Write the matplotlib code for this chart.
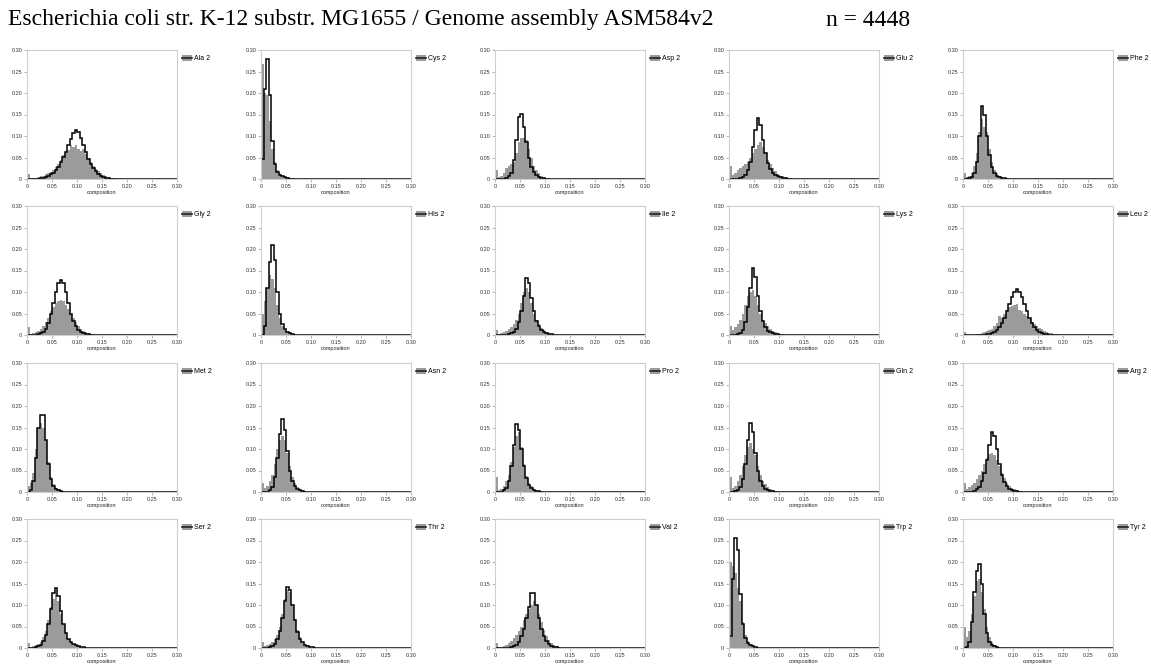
import numpy as np
import matplotlib
matplotlib.use("Agg")
import matplotlib.pyplot as plt
from matplotlib.patches import Patch
from matplotlib.lines import Line2D
from matplotlib.legend_handler import HandlerTuple

TITLE = "Escherichia coli str. K-12 substr. MG1655 / Genome assembly ASM584v2"
N_TEXT = "n = 4448"
BIN_WIDTH = 0.005
X_MAX = 0.30
TICKS = [0, 0.05, 0.10, 0.15, 0.20, 0.25, 0.30]
TICK_LABELS = ["0", "0.05", "0.10", "0.15", "0.20", "0.25", "0.30"]

labels = ["Ala 2", "Cys 2", "Asp 2", "Glu 2", "Phe 2",
          "Gly 2", "His 2", "Ile 2", "Lys 2", "Leu 2",
          "Met 2", "Asn 2", "Pro 2", "Gln 2", "Arg 2",
          "Ser 2", "Thr 2", "Val 2", "Trp 2", "Tyr 2"]

# outline histograms (black), bin i covers [0.005*i, 0.005*(i+1))
ala_black = [0, 0, 0, 0, 0, 0.002, 0.003, 0.005, 0.008, 0.011, 0.015, 0.021, 0.028, 0.040, 0.052, 0.063,
             0.078, 0.093, 0.107, 0.113, 0.110, 0.095, 0.080, 0.063, 0.047, 0.035, 0.026, 0.018, 0.012,
             0.008, 0.005, 0.003, 0.002, 0.001, 0.001]
cys_black = [0.046, 0.210, 0.279, 0.196, 0.088, 0.035, 0.016, 0.010, 0.006, 0.004, 0.002, 0.001, 0.001]
asp_black = [0, 0, 0, 0.001, 0.003, 0.006, 0.015, 0.045, 0.090, 0.145, 0.152, 0.120, 0.085, 0.050, 0.028,
             0.016, 0.009, 0.005, 0.003, 0.002, 0.001]
glu_black = [0, 0, 0, 0.001, 0.003, 0.005, 0.010, 0.020, 0.040, 0.075, 0.115, 0.142, 0.125, 0.090, 0.060,
             0.038, 0.024, 0.014, 0.009, 0.006, 0.004, 0.003, 0.002, 0.001, 0.001]
phe_black = [0, 0, 0.002, 0.005, 0.015, 0.040, 0.100, 0.170, 0.150, 0.100, 0.055, 0.028, 0.014, 0.008,
             0.005, 0.003, 0.002, 0.001]
gly_black = [0, 0, 0, 0.001, 0.002, 0.004, 0.008, 0.015, 0.028, 0.048, 0.075, 0.100, 0.120, 0.128, 0.122,
             0.100, 0.075, 0.050, 0.032, 0.020, 0.012, 0.007, 0.004, 0.003, 0.002, 0.001, 0.001]
his_black = [0, 0.020, 0.110, 0.170, 0.210, 0.175, 0.100, 0.050, 0.025, 0.013, 0.007, 0.004, 0.002, 0.001]
ile_black = [0, 0, 0, 0, 0.001, 0.002, 0.004, 0.008, 0.015, 0.030, 0.055, 0.090, 0.133, 0.120, 0.085,
             0.055, 0.033, 0.020, 0.012, 0.007, 0.004, 0.003, 0.002, 0.001]
lys_black = [0, 0, 0, 0.002, 0.005, 0.012, 0.030, 0.065, 0.110, 0.155, 0.135, 0.090, 0.055, 0.032, 0.018,
             0.010, 0.006, 0.004, 0.003, 0.002, 0.001]
leu_black = [0, 0, 0, 0, 0, 0, 0, 0, 0.001, 0.002, 0.003, 0.005, 0.008, 0.012, 0.018, 0.027, 0.040,
             0.055, 0.072, 0.088, 0.100, 0.107, 0.100, 0.088, 0.072, 0.055, 0.040, 0.028, 0.019, 0.012,
             0.008, 0.005, 0.003, 0.002, 0.001, 0.001]
met_black = [0, 0.005, 0.025, 0.080, 0.150, 0.180, 0.178, 0.120, 0.065, 0.030, 0.014, 0.007, 0.004,
             0.002, 0.001]
asn_black = [0, 0, 0.001, 0.004, 0.012, 0.035, 0.080, 0.135, 0.170, 0.145, 0.095, 0.050, 0.025, 0.013,
             0.007, 0.004, 0.002, 0.001]
pro_black = [0, 0, 0.001, 0.004, 0.010, 0.025, 0.060, 0.110, 0.158, 0.145, 0.100, 0.060, 0.032, 0.016,
             0.009, 0.005, 0.003, 0.002, 0.001]
gln_black = [0, 0, 0.002, 0.005, 0.012, 0.030, 0.065, 0.120, 0.160, 0.140, 0.090, 0.050, 0.026, 0.014,
             0.008, 0.005, 0.003, 0.002, 0.001]
arg_black = [0, 0, 0, 0.001, 0.003, 0.006, 0.012, 0.025, 0.045, 0.075, 0.110, 0.140, 0.130, 0.100, 0.065,
             0.040, 0.024, 0.014, 0.008, 0.005, 0.003, 0.002, 0.001]
ser_black = [0, 0, 0.001, 0.002, 0.004, 0.008, 0.016, 0.030, 0.055, 0.090, 0.128, 0.140, 0.120, 0.085,
             0.055, 0.035, 0.022, 0.014, 0.009, 0.006, 0.004, 0.003, 0.002, 0.001, 0.001]
thr_black = [0, 0, 0, 0.002, 0.005, 0.010, 0.020, 0.040, 0.070, 0.110, 0.143, 0.135, 0.100, 0.065, 0.038,
             0.022, 0.013, 0.008, 0.005, 0.003, 0.002, 0.001]
val_black = [0, 0, 0, 0, 0, 0.001, 0.002, 0.004, 0.008, 0.015, 0.028, 0.045, 0.070, 0.095, 0.127, 0.127,
             0.100, 0.070, 0.045, 0.027, 0.016, 0.009, 0.005, 0.003, 0.002, 0.001]
trp_black = [0.029, 0.160, 0.256, 0.227, 0.125, 0.055, 0.024, 0.012, 0.007, 0.004, 0.002, 0.001]
tyr_black = [0, 0.003, 0.015, 0.060, 0.130, 0.180, 0.195, 0.150, 0.080, 0.035, 0.015, 0.007, 0.004,
             0.002, 0.001]

# filled histograms (gray)
ala_gray = [0.012, 0.001, 0.002, 0.002, 0.004, 0.006, 0.008, 0.011, 0.014, 0.016, 0.022, 0.028, 0.035,
            0.045, 0.055, 0.062, 0.067, 0.078, 0.074, 0.078, 0.070, 0.065, 0.070, 0.058, 0.048, 0.040,
            0.030, 0.024, 0.018, 0.013, 0.010, 0.007, 0.005, 0.003, 0.002, 0.002, 0.001]
cys_gray = [0.268, 0.200, 0.195, 0.135, 0.070, 0.040, 0.020, 0.012, 0.008, 0.005, 0.004, 0.003, 0.002,
            0.001, 0.001, 0.001, 0.001, 0.001, 0.001]
asp_gray = [0.020, 0.004, 0.008, 0.015, 0.025, 0.030, 0.035, 0.040, 0.060, 0.085, 0.095, 0.095, 0.090,
            0.070, 0.050, 0.030, 0.020, 0.013, 0.008, 0.005, 0.003, 0.002, 0.001]
glu_gray = [0.030, 0.010, 0.015, 0.020, 0.025, 0.030, 0.035, 0.040, 0.050, 0.060, 0.070, 0.080, 0.085,
            0.075, 0.060, 0.045, 0.035, 0.025, 0.018, 0.012, 0.008, 0.006, 0.004, 0.003, 0.002, 0.001]
phe_gray = [0.015, 0.004, 0.008, 0.015, 0.030, 0.060, 0.110, 0.140, 0.120, 0.110, 0.070, 0.040, 0.022,
            0.013, 0.008, 0.005, 0.003, 0.002, 0.001]
gly_gray = [0.018, 0.003, 0.005, 0.008, 0.010, 0.015, 0.020, 0.030, 0.040, 0.055, 0.065, 0.075, 0.078,
            0.082, 0.080, 0.070, 0.060, 0.050, 0.040, 0.030, 0.022, 0.015, 0.010, 0.007, 0.005, 0.003,
            0.002, 0.001, 0.001]
his_gray = [0.050, 0.080, 0.110, 0.140, 0.130, 0.110, 0.070, 0.040, 0.022, 0.012, 0.007, 0.004, 0.002,
            0.001]
ile_gray = [0.012, 0.003, 0.005, 0.007, 0.010, 0.013, 0.018, 0.025, 0.035, 0.050, 0.075, 0.100, 0.110,
            0.100, 0.075, 0.050, 0.035, 0.025, 0.017, 0.011, 0.007, 0.005, 0.003, 0.002, 0.001]
lys_gray = [0.020, 0.012, 0.018, 0.025, 0.035, 0.050, 0.070, 0.090, 0.100, 0.105, 0.090, 0.070, 0.050,
            0.035, 0.028, 0.020, 0.014, 0.010, 0.007, 0.005, 0.003, 0.002, 0.001]
leu_gray = [0.008, 0.001, 0.001, 0.001, 0.001, 0.002, 0.003, 0.004, 0.006, 0.010, 0.012, 0.015, 0.020,
            0.028, 0.045, 0.040, 0.050, 0.058, 0.065, 0.067, 0.070, 0.072, 0.058, 0.055, 0.050, 0.045,
            0.038, 0.030, 0.025, 0.020, 0.016, 0.014, 0.010, 0.007, 0.005, 0.004, 0.003, 0.002, 0.001,
            0.001]
met_gray = [0.015, 0.020, 0.045, 0.100, 0.150, 0.160, 0.150, 0.120, 0.070, 0.035, 0.018, 0.010, 0.006,
            0.004, 0.002, 0.001]
asn_gray = [0.020, 0.010, 0.015, 0.025, 0.040, 0.065, 0.100, 0.120, 0.130, 0.120, 0.090, 0.060, 0.035,
            0.020, 0.012, 0.007, 0.004, 0.002, 0.001]
pro_gray = [0.035, 0.005, 0.008, 0.014, 0.025, 0.040, 0.070, 0.105, 0.130, 0.140, 0.105, 0.065, 0.038,
            0.022, 0.013, 0.008, 0.005, 0.003, 0.002, 0.001]
gln_gray = [0.035, 0.010, 0.015, 0.025, 0.040, 0.060, 0.085, 0.105, 0.115, 0.100, 0.085, 0.060, 0.040,
            0.025, 0.018, 0.012, 0.008, 0.005, 0.003, 0.002, 0.001]
arg_gray = [0.020, 0.008, 0.012, 0.016, 0.022, 0.030, 0.040, 0.050, 0.065, 0.080, 0.088, 0.090, 0.085,
            0.075, 0.060, 0.045, 0.032, 0.022, 0.015, 0.010, 0.007, 0.005, 0.003, 0.002, 0.001]
ser_gray = [0.012, 0.002, 0.004, 0.006, 0.010, 0.015, 0.025, 0.040, 0.065, 0.095, 0.115, 0.125, 0.110,
            0.080, 0.055, 0.035, 0.022, 0.015, 0.010, 0.007, 0.005, 0.003, 0.002, 0.001]
thr_gray = [0.015, 0.004, 0.006, 0.010, 0.014, 0.020, 0.030, 0.050, 0.080, 0.115, 0.138, 0.130, 0.100,
            0.068, 0.042, 0.025, 0.015, 0.010, 0.006, 0.004, 0.002, 0.001]
val_gray = [0.012, 0.002, 0.003, 0.005, 0.008, 0.012, 0.017, 0.023, 0.030, 0.040, 0.050, 0.065, 0.080,
            0.090, 0.100, 0.110, 0.100, 0.080, 0.060, 0.042, 0.028, 0.018, 0.011, 0.007, 0.004, 0.002,
            0.001]
trp_gray = [0.200, 0.190, 0.175, 0.140, 0.110, 0.060, 0.030, 0.016, 0.009, 0.005, 0.003, 0.002, 0.001]
tyr_gray = [0.050, 0.025, 0.040, 0.080, 0.120, 0.155, 0.160, 0.130, 0.090, 0.050, 0.025, 0.013, 0.007,
            0.004, 0.002, 0.001]

black_series = [ala_black, cys_black, asp_black, glu_black, phe_black,
                gly_black, his_black, ile_black, lys_black, leu_black,
                met_black, asn_black, pro_black, gln_black, arg_black,
                ser_black, thr_black, val_black, trp_black, tyr_black]
gray_series = [ala_gray, cys_gray, asp_gray, glu_gray, phe_gray,
               gly_gray, his_gray, ile_gray, lys_gray, leu_gray,
               met_gray, asn_gray, pro_gray, gln_gray, arg_gray,
               ser_gray, thr_gray, val_gray, trp_gray, tyr_gray]

n_bins = int(round(X_MAX / BIN_WIDTH))
edges = np.linspace(0, X_MAX, n_bins + 1)


def pad(vals):
    arr = np.zeros(n_bins)
    arr[:len(vals)] = vals
    return arr


W, H = 1151, 666
fig = plt.figure(figsize=(W / 100, H / 100), dpi=100)

SANS = ["Liberation Sans", "DejaVu Sans"]
SERIF = ["Liberation Serif", "DejaVu Serif"]
GRAY = "#9b9b9b"
SPINE = "#cfcfcf"

fig.text(8 / W, 1 - 20 / H, TITLE, family=SERIF, fontsize=17, va="center", ha="left")
fig.text(826 / W, 1 - 20 / H, N_TEXT, family=SERIF, fontsize=17, va="center", ha="left")

col_left = [27, 261, 495, 729, 963]
row_bottom = [179, 335, 492, 648]
ax_w, ax_h = 150, 129

for k, lab in enumerate(labels):
    r, c = divmod(k, 5)
    ax = fig.add_axes([col_left[c] / W, 1 - row_bottom[r] / H, ax_w / W, ax_h / H])
    ax.stairs(pad(gray_series[k]), edges, fill=True, color=GRAY, linewidth=0)
    ax.stairs(pad(black_series[k]), edges, color="black", linewidth=1.1)
    ax.set_xlim(0, X_MAX)
    ax.set_ylim(0, 0.30)
    ax.set_xticks(TICKS)
    ax.set_xticklabels(TICK_LABELS)
    ax.set_yticks(TICKS)
    ax.set_yticklabels(TICK_LABELS)
    for s in ax.spines.values():
        s.set_color(SPINE)
        s.set_linewidth(0.8)
    ax.tick_params(length=2, width=0.5, color="#999999", labelsize=4, pad=1.5, labelcolor="#333333")
    for t in ax.get_xticklabels() + ax.get_yticklabels():
        t.set_family(SANS)
    ax.set_xlabel("composition", fontsize=4, family=SANS, labelpad=0.5, color="#222222")
    handle = (Patch(facecolor=GRAY, edgecolor="none"), Line2D([], [], color="#222222", lw=1.2))
    ax.legend([handle], [lab], handler_map={tuple: HandlerTuple(ndivide=1, pad=0)},
              loc="upper left", bbox_to_anchor=(1.0, 1.0), frameon=False,
              prop={"family": SANS, "size": 5}, handlelength=1.4, handleheight=1.0,
              handletextpad=0.3, borderaxespad=0.3)

fig.savefig("out.png", dpi=100)
